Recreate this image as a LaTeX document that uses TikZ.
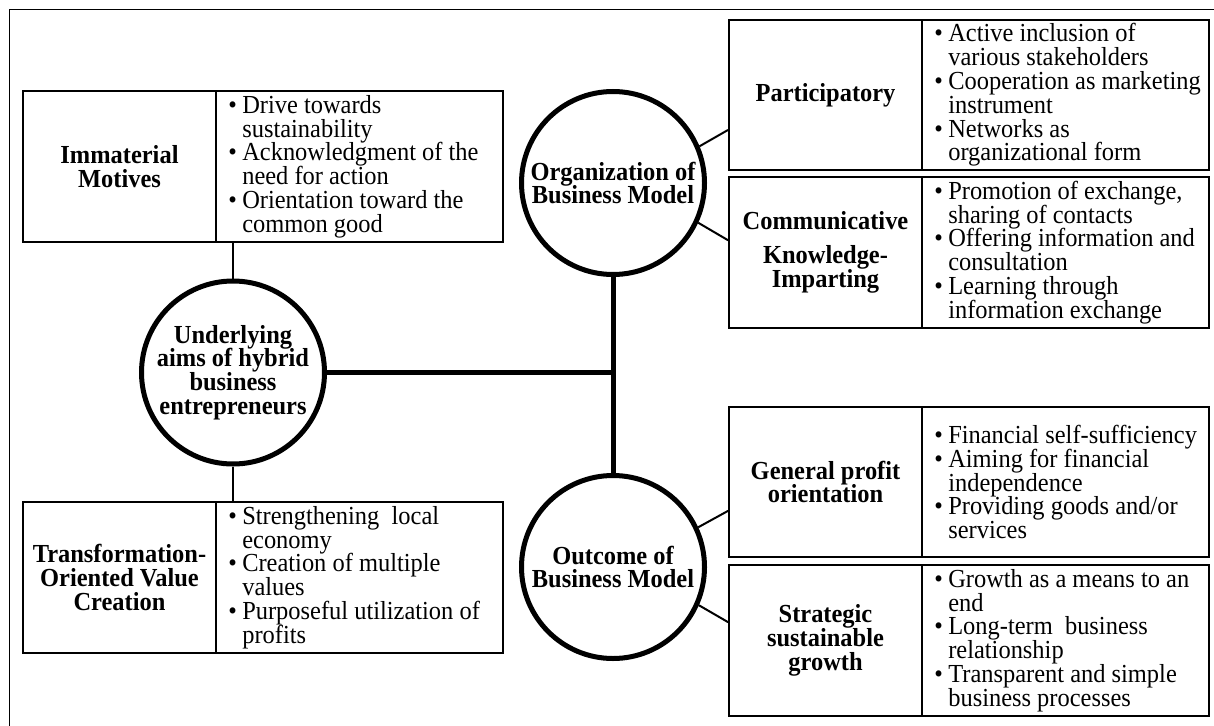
\documentclass[tikz,border=0pt]{standalone}
\usepackage{fontspec}
\setmainfont{Liberation Serif}[FakeStretch=0.94]
\usetikzlibrary{calc}
\newcommand{\bodyfont}{\fontsize{26}{23.8}\selectfont\lineskiplimit=-20pt}
\newcommand{\bi}[1]{\makebox[14pt][l]{\textbullet}#1}
\newcommand{\bc}[1]{\hspace*{14pt}#1}
\begin{document}
\begin{tikzpicture}[x=1pt,y=-1pt,
  cell/.style={draw, line width=1.8pt, inner sep=0pt, minimum width=193pt, minimum height=151pt, align=center, font=\bodyfont\bfseries},
  bcell/.style={draw, line width=1.8pt, inner sep=0pt, minimum width=287pt, minimum height=151pt},
  btext/.style={anchor=west, inner sep=0pt, align=left, font=\bodyfont, xshift=13pt},
  hub/.style={circle, draw, line width=5pt, minimum size=183pt, inner sep=0pt, align=center, font=\bodyfont\bfseries},
  thicklink/.style={line width=5pt},
  thinlink/.style={line width=2pt},
  vlink/.style={line width=1.5pt}]
\useasboundingbox (0,0) rectangle (1214,725);
\clip (0,0) rectangle (1214,725);
\draw[line width=1.5pt] (9.5,9.5) rectangle (1240,750);

% left boxes
\node[cell] (immL) at (119.5,166.5) {Immaterial\\Motives};
\node[bcell] (immR) at (359.5,166.5) {};
\node[btext] (immT) at (immR.west) {\bi{Drive towards}\\\bc{sustainability}\\\bi{Acknowledgment of the}\\\bc{need for action}\\\bi{Orientation toward the}\\\bc{common good}};

\node[cell] (trL) at (119.5,577.5) {Transformation-\\Oriented Value\\Creation};
\node[bcell] (trR) at (359.5,577.5) {};
\node[btext] (trT) at (trR.west) {\bi{Strengthening\ \ local}\\\bc{economy}\\\bi{Creation of multiple}\\\bc{values}\\\bi{Purposeful utilization of}\\\bc{profits}};

% right boxes
\node[cell, minimum height=150pt] (partL) at (825.5,95) {Participatory};
\node[bcell, minimum height=150pt] (partR) at (1065.5,95) {};
\node[btext] (partT) at (partR.west) {\bi{Active inclusion of}\\\bc{various stakeholders}\\\bi{Cooperation as marketing}\\\bc{instrument}\\\bi{Networks as}\\\bc{organizational form}};

\node[cell] (comL) at (825.5,252.5) {Communicative\\[10pt]Knowledge-\\Imparting};
\node[bcell] (comR) at (1065.5,252.5) {};
\node[btext] (comT) at (comR.west) {\bi{Promotion of exchange,}\\\bc{sharing of contacts}\\\bi{Offering information and}\\\bc{consultation}\\\bi{Learning through}\\\bc{information exchange}};

\node[cell, minimum height=150pt] (genL) at (825.5,482) {General profit\\orientation};
\node[bcell, minimum height=150pt] (genR) at (1065.5,482) {};
\node[btext] (genT) at (genR.west) {\bi{Financial self-sufficiency}\\\bi{Aiming for financial}\\\bc{independence}\\\bi{Providing goods and/or}\\\bc{services}};

\node[cell] (strL) at (825.5,640.5) {Strategic\\sustainable\\growth};
\node[bcell] (strR) at (1065.5,640.5) {};
\node[btext] (strT) at (strR.west) {\bi{Growth as a means to an}\\\bc{end}\\\bi{Long-term\ \ business}\\\bc{relationship}\\\bi{Transparent and simple}\\\bc{business processes}};

% hubs
\node[hub] (und) at (233,372.5) {Underlying\\aims of hybrid\\business\\entrepreneurs};
\node[hub] (org) at (613,183) {Organization of\\Business Model};
\node[hub] (out) at (613,567) {Outcome of\\Business Model};

% connectors
\draw[thicklink] (und.east) -- (und.east -| org.south);
\draw[thicklink] (org.south) -- (out.north);
\draw[vlink] (und.north) -- (und.north |- immR.south);
\draw[vlink] (und.south) -- (und.south |- trR.north);
\draw[thinlink] (org.23) -- ($(partL.north west)!0.73!(partL.south west)$);
\draw[thinlink] (org.-25) -- ($(comL.north west)!0.42!(comL.south west)$);
\draw[thinlink] (out.25) -- ($(genL.north west)!0.69!(genL.south west)$);
\draw[thinlink] (out.-24) -- ($(strL.north west)!0.38!(strL.south west)$);
\end{tikzpicture}
\end{document}
